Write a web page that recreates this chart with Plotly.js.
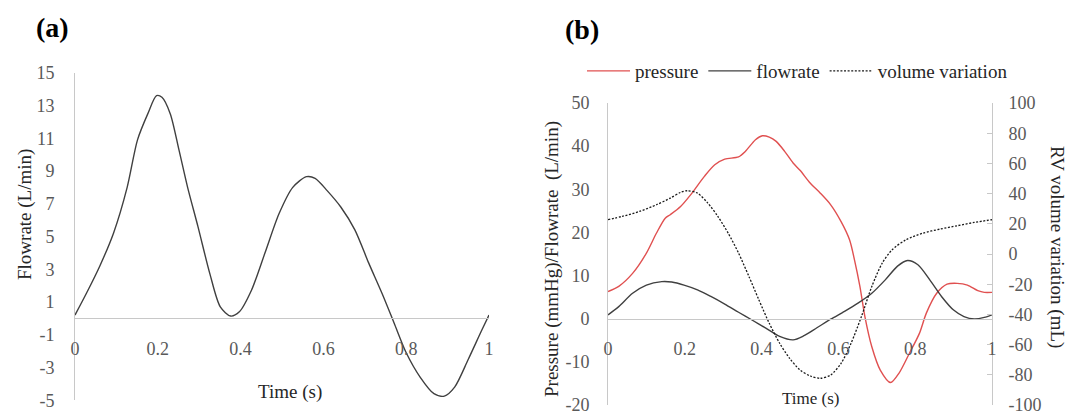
<!DOCTYPE html>
<html>
<head>
<meta charset="utf-8">
<script src="https://cdn.plot.ly/plotly-3.0.1.min.js"></script>
<style>html,body{margin:0;padding:0;background:#fff;}#chart{width:1067px;height:414px;}</style>
</head>
<body>
<div id="chart"></div>
<script>
// ---------- Panel (a): flowrate waveform ----------
const timeA = [0, 0.027, 0.06, 0.093, 0.126, 0.151, 0.176, 0.197, 0.21, 0.23, 0.251, 0.272, 0.297, 0.326, 0.351, 0.376, 0.397, 0.426, 0.459, 0.493, 0.526, 0.559, 0.58, 0.609, 0.642, 0.676, 0.709, 0.742, 0.771, 0.8, 0.834, 0.867, 0.892, 0.917, 0.95, 0.983, 1.0];
const flowA = [0.2, 1.5, 3.2, 5.2, 8.0, 10.9, 12.5, 13.6, 13.5, 12.5, 10.3, 8.0, 5.6, 2.7, 0.7, 0.14, 0.4, 1.7, 4.0, 6.4, 8.0, 8.65, 8.55, 7.8, 6.8, 5.4, 3.4, 1.5, -0.3, -2.1, -3.6, -4.6, -4.75, -4.2, -2.5, -0.7, 0.2];

// ---------- Panel (b): pressure ----------
const timeP = [0, 0.028, 0.064, 0.1, 0.126, 0.149, 0.162, 0.189, 0.215, 0.251, 0.278, 0.304, 0.34, 0.358, 0.384, 0.402, 0.42, 0.438, 0.46, 0.482, 0.5, 0.527, 0.553, 0.58, 0.607, 0.629, 0.642, 0.656, 0.669, 0.687, 0.709, 0.736, 0.758, 0.785, 0.811, 0.829, 0.856, 0.883, 0.909, 0.936, 0.963, 0.98, 1.0];
const pressure = [6.3, 7.5, 10.5, 15.2, 19.8, 23.3, 24.1, 26, 28.7, 33, 35.7, 37.0, 37.5, 38.8, 41.5, 42.4, 42.1, 41.1, 38.8, 36.1, 34.4, 31.4, 29.1, 26.4, 22.5, 18.3, 13.6, 7.5, 0.5, -6.5, -11.9, -14.8, -12.6, -8.0, -3.4, 1.3, 5.9, 8.0, 8.2, 7.8, 6.5, 6.1, 6.1];

// ---------- Panel (b): flowrate ----------
const timeF = [0, 0.028, 0.064, 0.1, 0.14, 0.166, 0.198, 0.233, 0.269, 0.304, 0.34, 0.375, 0.411, 0.447, 0.482, 0.509, 0.544, 0.58, 0.616, 0.651, 0.687, 0.722, 0.754, 0.78, 0.807, 0.838, 0.869, 0.9, 0.927, 0.954, 0.98, 1.0];
const flowB = [0.9, 2.8, 5.9, 7.8, 8.6, 8.5, 7.8, 6.7, 5.1, 3.4, 1.5, -0.3, -2.2, -4.1, -4.9, -4.0, -2.1, -0.1, 1.7, 3.6, 5.9, 9.0, 12.2, 13.5, 12.5, 9.0, 5.1, 2.0, 0.5, -0.05, 0.3, 0.9];

// ---------- Panel (b): RV volume variation (right axis) ----------
const timeV = [0, 0.037, 0.082, 0.126, 0.162, 0.189, 0.206, 0.233, 0.26, 0.286, 0.313, 0.34, 0.367, 0.393, 0.42, 0.447, 0.473, 0.5, 0.527, 0.553, 0.58, 0.607, 0.633, 0.66, 0.687, 0.714, 0.74, 0.776, 0.82, 0.865, 0.909, 0.954, 1.0];
const volume = [22.7, 24.9, 28.2, 32.6, 37, 40.8, 41.9, 40.3, 33.7, 24.9, 13.8, 0.6, -14.9, -30.4, -45.9, -59.1, -69.1, -76.8, -80.8, -82.3, -80.1, -72.4, -59.1, -41.4, -21.5, -6.1, 2.8, 9.4, 13.8, 16.5, 18.7, 20.9, 22.7];

const seriesNames = ['pressure', 'flowrate', 'volume variation'];

// ---------- Tick values / labels ----------
const xTicks = [0, 0.2, 0.4, 0.6, 0.8, 1];
const xTickText = ['0', '0.2', '0.4', '0.6', '0.8', '1'];
const yTicksA = [-5, -3, -1, 1, 3, 5, 7, 9, 11, 13, 15];
const yTickTextA = ['-5', '-3', '-1', '1', '3', '5', '7', '9', '11', '13', '15'];
const yTicksB = [-20, -10, 0, 10, 20, 30, 40, 50];
const yTickTextB = ['-20', '-10', '0', '10', '20', '30', '40', '50'];
const yTicksV = [-100, -80, -60, -40, -20, 0, 20, 40, 60, 80, 100];
const yTickTextV = ['-100', '-80', '-60', '-40', '-20', '0', '20', '40', '60', '80', '100'];

const FONT = 'Liberation Serif';
const TICKC = '#595959';
const LINEC = '#c8c8c8';
const TITLEC = '#262626';

const traces = [
  {x: timeA, y: flowA, xaxis: 'x', yaxis: 'y', mode: 'lines', showlegend: false,
   line: {color: '#404040', width: 1.4, shape: 'spline', smoothing: 0.8}, hoverinfo: 'skip'},
  {x: timeP, y: pressure, xaxis: 'x2', yaxis: 'y2', mode: 'lines', name: seriesNames[0],
   line: {color: '#e05050', width: 1.4, shape: 'spline', smoothing: 0.8}},
  {x: timeF, y: flowB, xaxis: 'x2', yaxis: 'y2', mode: 'lines', name: seriesNames[1],
   line: {color: '#404040', width: 1.4, shape: 'spline', smoothing: 0.8}},
  {x: timeV, y: volume, xaxis: 'x2', yaxis: 'y3', mode: 'lines', name: seriesNames[2],
   line: {color: '#1a1a1a', width: 1.3, dash: '2px,1.6px', shape: 'spline', smoothing: 0.8}}
];

const W = 1067, H = 414;
const px = v => v / W, py = v => 1 - v / H;

const tf = {family: FONT, size: 18, color: TICKC};
const xCommon = {range: [0, 1], tickvals: xTicks, ticktext: xTickText, showgrid: false, zeroline: false,
  showline: true, linecolor: LINEC, linewidth: 1, ticks: '', ticklabelstandoff: 14,
  tickfont: tf, anchor: 'free', fixedrange: true, ticklabeloverflow: 'allow'};

const layout = {
  width: W, height: H,
  margin: {l: 0, r: 0, t: 0, b: 0, pad: 0},
  paper_bgcolor: '#ffffff', plot_bgcolor: 'rgba(0,0,0,0)',
  font: {family: FONT, color: TITLEC},
  showlegend: true,
  legend: {orientation: 'h', x: px(582), xanchor: 'left', y: py(71), yanchor: 'middle',
    font: {family: FONT, size: 19, color: TITLEC}, bgcolor: 'rgba(0,0,0,0)', itemwidth: 43, tracegroupgap: 0},
  xaxis: Object.assign({}, xCommon, {domain: [px(75), px(489)], position: py(318.4)}),
  yaxis: {domain: [py(400.2), py(72.7)], range: [-5, 15], tickvals: yTicksA, ticktext: yTickTextA, anchor: 'x',
    showgrid: false, zeroline: false, showline: true, linecolor: LINEC, ticks: '', ticklabelstandoff: 16,
    tickfont: tf, fixedrange: true, ticklabeloverflow: 'allow'},
  xaxis2: Object.assign({}, xCommon, {domain: [px(608), px(992)], position: py(318.7)}),
  yaxis2: {domain: [py(405), py(103)], range: [-20, 50], tickvals: yTicksB, ticktext: yTickTextB, anchor: 'x2',
    showgrid: false, zeroline: false, showline: true, linecolor: LINEC, ticks: '', ticklabelstandoff: 14,
    tickfont: tf, fixedrange: true, ticklabeloverflow: 'allow'},
  yaxis3: {overlaying: 'y2', side: 'right', anchor: 'x2', range: [-100, 100], tickvals: yTicksV, ticktext: yTickTextV,
    showgrid: false, zeroline: false, showline: true, linecolor: LINEC, ticks: 'inside', ticklen: 5, tickcolor: LINEC,
    ticklabelstandoff: 12, tickfont: tf, fixedrange: true, ticklabeloverflow: 'allow'},
  annotations: [
    {text: '<b>(a)</b>', x: px(52), y: py(28), xref: 'paper', yref: 'paper', showarrow: false,
     xanchor: 'center', yanchor: 'middle', font: {family: FONT, size: 28, color: '#000'}},
    {text: '<b>(b)</b>', x: px(582), y: py(30), xref: 'paper', yref: 'paper', showarrow: false,
     xanchor: 'center', yanchor: 'middle', font: {family: FONT, size: 28, color: '#000'}},
    {text: 'Flowrate (L/min)', x: px(25), y: py(215), xref: 'paper', yref: 'paper', showarrow: false,
     textangle: -90, xanchor: 'center', yanchor: 'middle', font: {family: FONT, size: 19, color: TITLEC}},
    {text: 'Time (s)', x: px(290), y: py(392), xref: 'paper', yref: 'paper', showarrow: false,
     xanchor: 'center', yanchor: 'middle', font: {family: FONT, size: 19, color: TITLEC}},
    {text: 'Pressure (mmHg)/Flowrate\u00a0 (L/min)', x: px(552), y: py(259), xref: 'paper', yref: 'paper', showarrow: false,
     textangle: -90, xanchor: 'center', yanchor: 'middle', font: {family: FONT, size: 19, color: TITLEC}},
    {text: 'Time (s)', x: px(810), y: py(398), xref: 'paper', yref: 'paper', showarrow: false,
     xanchor: 'center', yanchor: 'middle', font: {family: FONT, size: 17, color: TITLEC}},
    {text: 'RV volume variation (mL)', x: px(1057), y: py(247), xref: 'paper', yref: 'paper', showarrow: false,
     textangle: 90, xanchor: 'center', yanchor: 'middle', font: {family: FONT, size: 19, color: TITLEC}}
  ]
};

Plotly.newPlot('chart', traces, layout, {staticPlot: true, displayModeBar: false});
</script>
</body>
</html>
